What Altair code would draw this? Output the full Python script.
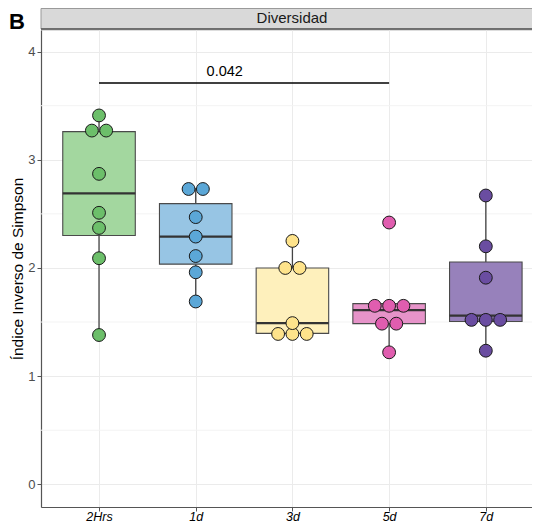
import json
import altair as alt
import numpy as np
import pandas as pd

# ---------------- data ----------------
groups = ["2Hrs", "1d", "3d", "5d", "7d"]
v_2hrs = [1.38, 2.09, 2.37, 2.51, 2.87, 3.25, 3.29, 3.41]
v_1d = [1.69, 1.96, 2.11, 2.29, 2.47, 2.72, 2.74]
v_3d = [1.38, 1.39, 1.40, 1.49, 1.99, 2.01, 2.25]
v_5d = [1.22, 1.47, 1.50, 1.61, 1.65, 1.69, 2.42]
v_7d = [1.235, 1.48, 1.53, 1.56, 1.91, 2.20, 2.67]
values = [v_2hrs, v_1d, v_3d, v_5d, v_7d]

dot_colors = ["#6CBF6A", "#5BA7D7", "#FEE38B", "#E05DAF", "#6A4DA1"]
box_colors = ["#A3D79F", "#97C5E4", "#FEF0BC", "#E693C9", "#9781BB"]

sig_from, sig_to = "2Hrs", "5d"
sig_label = "0.042"
sig_y = 3.71
sig_label_y = 3.81
sig_label_x = 2.30

panel_title = "Diversidad"
y_title = "Índice Inverso de Simpson"
tag = "B"

y_ticks = [0, 1, 2, 3, 4]
y_minor = [0.5, 1.5, 2.5, 3.5]

# ---------------- layout params ----------------
W, H = 491, 477
PX_PER_X = 96.7
BINWIDTH = 0.09      # dotplot bin width (y units)
DOT_STEP = 0.148     # horizontal dot spacing (x units)
BOX_HALF = 0.375
FONT = "Liberation Sans"

xscale = alt.Scale(domain=[0.4, 0.4 + W / PX_PER_X], nice=False, zero=False)
yscale = alt.Scale(domain=[-0.21, 4.2], nice=False, zero=False)


def dot_layout(vals, bw):
    vals = sorted(vals)
    bins, end = [], -np.inf
    for v in vals:
        if v >= end:
            bins.append([v])
            end = v + bw
        else:
            bins[-1].append(v)
    out = []
    for b in bins:
        c = (min(b) + max(b)) / 2
        n = len(b)
        for i in range(n):
            out.append((c, i - (n - 1) / 2))
    return out


dots, boxes, whisk, meds = [], [], [], []
for gi, (g, vals) in enumerate(zip(groups, values)):
    pos = gi + 1
    arr = np.array(vals)
    q1, med, q3 = np.quantile(arr, [0.25, 0.5, 0.75])
    iqr = q3 - q1
    lo = arr[arr >= q1 - 1.5 * iqr].min()
    hi = arr[arr <= q3 + 1.5 * iqr].max()
    boxes.append(dict(g=g, x=pos - BOX_HALF, x2=pos + BOX_HALF, y=q1, y2=q3,
                      fillc=box_colors[gi]))
    meds.append(dict(g=g, x=pos - BOX_HALF, x2=pos + BOX_HALF, y=med))
    whisk.append(dict(g=g, x=pos, y=lo, y2=q1))
    whisk.append(dict(g=g, x=pos, y=q3, y2=hi))
    for c, k in dot_layout(vals, BINWIDTH):
        dots.append(dict(g=g, x=pos + k * DOT_STEP, y=c, fillc=dot_colors[gi]))

dots = pd.DataFrame(dots)
boxes = pd.DataFrame(boxes)
whisk = pd.DataFrame(whisk)
meds = pd.DataFrame(meds)
minor = pd.DataFrame({"y": y_minor, "x": [0.4] * len(y_minor),
                      "x2": [0.4 + W / PX_PER_X] * len(y_minor)})
sig = pd.DataFrame({"x": [groups.index(sig_from) + 1], "x2": [groups.index(sig_to) + 1],
                    "y": [sig_y], "lx": [sig_label_x], "ly": [sig_label_y], "t": [sig_label]})

label_expr = "%s[round(datum.value) - 1]" % json.dumps(groups)

x_axis = alt.Axis(values=[1, 2, 3, 4, 5], labelExpr=label_expr, title=None,
                  grid=True, gridColor="#EBEBEB", gridWidth=1,
                  domainColor="#555555", domainWidth=1.2, tickColor="#555555",
                  tickSize=4, labelPadding=9, labelBaseline="alphabetic",
                  labelFont=FONT, labelFontSize=12.5,
                  labelFontStyle="italic", labelColor="#000000")
y_axis = alt.Axis(values=y_ticks, format="d", title=y_title, grid=True,
                  gridColor="#EBEBEB", gridWidth=1, domainColor="#555555",
                  domainWidth=1.2, tickColor="#555555", tickSize=4, labelPadding=2,
                  labelFont=FONT, labelFontSize=13, labelColor="#4D4D4D",
                  titleFont=FONT, titleFontSize=15.5, titleFontWeight="normal",
                  titleColor="#000000", titleX=-24, titleY=H / 2, titleAngle=-90,
                  titleAlign="center", titleBaseline="middle")


def X(field):
    return alt.X(field, type="quantitative", scale=xscale, axis=x_axis)


def Y(field):
    return alt.Y(field, type="quantitative", scale=yscale, axis=y_axis)


minor_layer = alt.Chart(minor).mark_rule(color="#F3F3F3", strokeWidth=1).encode(
    x=X("x"), x2="x2", y=Y("y")
)

whisk_layer = alt.Chart(whisk).mark_rule(color="#444444", strokeWidth=1.3).encode(
    x=X("x"), y=Y("y"), y2="y2"
)

box_layer = alt.Chart(boxes).mark_rect(stroke="#4A4A4A", strokeWidth=1.1).encode(
    x=X("x"), x2="x2", y=Y("y"), y2="y2",
    fill=alt.Fill("fillc:N", scale=None),
)

med_layer = alt.Chart(meds).mark_rule(color="#333333", strokeWidth=2.2).encode(
    x=X("x"), x2="x2", y=Y("y")
)

dot_layer = alt.Chart(dots).mark_point(filled=True, size=165, stroke="#1A1A1A",
                                       strokeWidth=1, opacity=1, shape="circle").encode(
    x=X("x"), y=Y("y"),
    fill=alt.Fill("fillc:N", scale=None),
)

sig_line = alt.Chart(sig).mark_rule(color="#000000", strokeWidth=1.3).encode(
    x=X("x"), x2="x2", y=Y("y")
)
sig_text = alt.Chart(sig).mark_text(font=FONT, fontSize=14.5, color="#000000",
                                     baseline="middle", align="center").encode(
    x=X("lx"), y=Y("ly"), text="t:N"
)

deco = pd.DataFrame({"t": [panel_title]})
strip_rect = alt.Chart(deco).mark_rect(fill="#D9D9D9", stroke="#9A9A9A",
                                       strokeWidth=1).encode(
    x=alt.value(0), x2=alt.value(W + 6), y=alt.value(-21.5), y2=alt.value(-1)
)
strip_line = alt.Chart(deco).mark_rule(color="#555555", strokeWidth=1.5).encode(
    x=alt.value(0), x2=alt.value(W), y=alt.value(-1)
)
strip_text = alt.Chart(deco).mark_text(font=FONT, fontSize=15, color="#1A1A1A",
                                        baseline="middle", align="center").encode(
    x=alt.value(251), y=alt.value(-12), text="t:N"
)
tag_df = pd.DataFrame({"t": [tag]})
tag_text = alt.Chart(tag_df).mark_text(font=FONT, fontSize=22, fontWeight="bold",
                                        color="#000000", baseline="alphabetic",
                                        align="center").encode(
    x=alt.value(-24), y=alt.value(-1), text="t:N"
)

chart = alt.layer(
    minor_layer, whisk_layer, box_layer, med_layer, dot_layer,
    sig_line, sig_text, strip_rect, strip_line, strip_text, tag_text,
).properties(
    width=W, height=H,
    autosize=alt.AutoSizeParams(type="none"),
    padding={"left": 33, "top": 22, "right": 0, "bottom": 16},
).configure_view(stroke=None).configure(background="#FFFFFF")

chart.save("out.html", embed_options={"renderer": "svg", "actions": False})
